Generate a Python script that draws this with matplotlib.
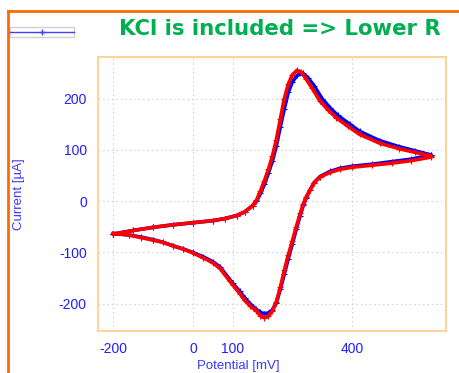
import matplotlib.pyplot as plt
from matplotlib.lines import Line2D
from matplotlib.patches import Rectangle

plt.rcParams['font.family'] = ['Liberation Sans', 'DejaVu Sans']
plt.rcParams['axes.unicode_minus'] = False

# cyclic voltammograms: potential [mV] / current [uA], forward scan then reverse scan
red_fwd_E = [-200, -150, -100, -50, 0, 50, 80, 110, 130, 150, 160, 170, 180, 190, 200, 210,
             220, 230, 240, 250, 262, 272, 285, 300, 320, 340, 360, 390, 420, 470, 520, 560, 600]
red_fwd_I = [-64, -57, -51, -46, -42, -38, -34, -28, -21, -9, 2, 20, 40, 62, 88, 120,
             160, 200, 228, 246, 255, 252, 238, 220, 195, 178, 163, 146, 130, 113, 102, 95, 88]
red_rev_E = [600, 550, 500, 450, 400, 370, 345, 320, 305, 295, 285, 278, 270, 260, 250, 240,
             230, 220, 210, 200, 190, 180, 170, 160, 144, 130, 118, 100, 93, 68, 50, 25, 0,
             -25, -50, -76, -100, -130, -160, -200]
red_rev_I = [86, 79, 74, 70, 66, 62, 56, 47, 36, 22, 8, -5, -24, -50, -78, -105,
             -135, -168, -196, -214, -224, -227, -223, -214, -204, -193, -180, -163, -156, -131, -120, -110, -101,
             -93, -87, -80, -76, -71, -66, -63]

blue_fwd_E = [-200, -150, -100, -50, 0, 50, 80, 110, 130, 150, 160, 170, 180, 190, 200, 210,
              220, 230, 240, 250, 262, 277, 290, 305, 325, 345, 365, 395, 420, 470, 520, 560, 600]
blue_fwd_I = [-64, -57, -51, -46, -42, -38, -34, -28, -21, -9, 0, 15, 33, 55, 78, 108,
              145, 180, 212, 232, 245, 249, 240, 225, 200, 182, 167, 150, 136, 118, 106, 98, 90]
blue_rev_E = [600, 550, 500, 450, 400, 370, 345, 320, 305, 295, 285, 278, 270, 260, 250, 240,
              230, 220, 210, 200, 190, 178, 168, 158, 144, 130, 118, 100, 93, 68, 50, 25, 0,
              -25, -50, -76, -100, -130, -160, -200]
blue_rev_I = [90, 82, 77, 72, 68, 64, 58, 48, 36, 22, 6, -8, -28, -55, -84, -112,
              -142, -172, -198, -212, -218, -219, -216, -210, -200, -188, -176, -160, -153, -128, -118, -108, -100,
              -93, -87, -80, -75, -70, -66, -63]

x_ticks = [-200, 0, 100, 400]
y_ticks = [-200, -100, 0, 100, 200]

tick_blue = '#1f1fff'

fig = plt.figure(figsize=(4.6, 3.73), dpi=100)
ax = fig.add_axes([0.213, 0.1126, 0.7565, 0.7346])

ax.plot(blue_fwd_E + blue_rev_E, blue_fwd_I + blue_rev_I, color='#0000ff',
        lw=2.6, marker='+', ms=4, mew=0.8, solid_joinstyle='round')
ax.plot(red_fwd_E + red_rev_E, red_fwd_I + red_rev_I, color='#ff0000',
        lw=2.6, marker='+', ms=4, mew=0.8, solid_joinstyle='round')

ax.set_xlim(-239, 637)
ax.set_ylim(-253, 281)
ax.set_xticks(x_ticks)
ax.set_yticks(y_ticks)
ax.tick_params(length=0, labelsize=10, labelcolor=tick_blue, pad=8)
ax.grid(True, color='#d4d4d4', linestyle=(0, (1.5, 2.5)), linewidth=0.8)
ax.set_axisbelow(True)
for sp in ax.spines.values():
    sp.set_color('#ffd49a')
    sp.set_linewidth(1.5)

ax.set_ylabel('Current [µA]', color='#3a3aff', fontsize=9.5)
ax.yaxis.set_label_coords(-0.21, 0.5)
ax.set_xlabel('Potential [mV]', color='#3a3aff', fontsize=9.5, va='top')
ax.xaxis.set_label_coords(0.402, -0.105)

fig.text(0.609, 0.922, 'KCl is included => Lower R', color='#00b050',
         fontsize=15.3, fontweight='bold', family='DejaVu Sans', ha='center', va='center')

# slide frame lines
fig.add_artist(Line2D([8 / 460, 8 / 460], [0, 1 - 11 / 373], color='#ff6a00', lw=2))
fig.add_artist(Line2D([8 / 460, 1], [1 - 11 / 373, 1 - 11 / 373], color='#ff6a00', lw=2))

# tiny legend remnant at top left
fig.add_artist(Rectangle((10 / 460, 1 - 37 / 373), 64 / 460, 10 / 373, fill=False,
                         edgecolor='#d0d0d0', lw=1))
fig.add_artist(Line2D([10 / 460, 74 / 460], [1 - 32 / 373, 1 - 32 / 373], color='#4040ff', lw=1))
fig.add_artist(Line2D([42 / 460], [1 - 32 / 373], color='#4040ff', marker='+', ms=4, lw=0))

fig.savefig('out.png', dpi=100)
